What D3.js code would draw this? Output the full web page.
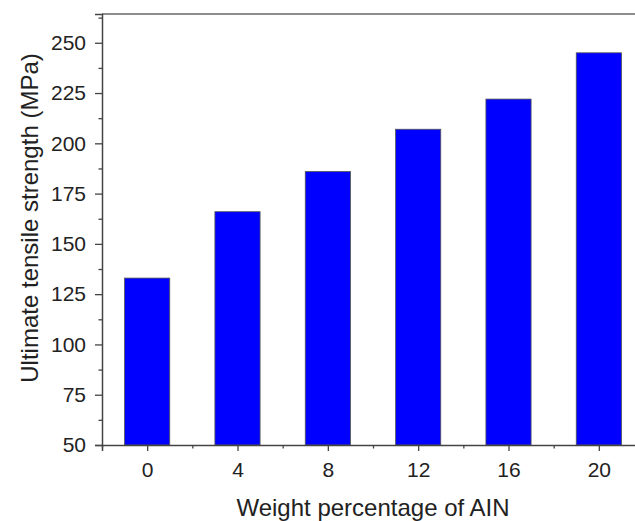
<!DOCTYPE html>
<html>
<head>
<meta charset="utf-8">
<script src="https://cdn.jsdelivr.net/npm/d3@7"></script>
<style>
  body { margin: 0; background: #fff; }
  svg { display: block; font-family: "Liberation Sans", Arial, sans-serif; }
</style>
</head>
<body>
<div id="chart"></div>
<script>
// chart data
var categories = [0, 4, 8, 12, 16, 20];
var strength = [133, 166, 186, 207, 222, 245];
var yTicks = [50, 75, 100, 125, 150, 175, 200, 225, 250];
var xLabel = "Weight percentage of AIN";
var yLabel = "Ultimate tensile strength (MPa)";

var W = 635, H = 521;
// the plot runs past the right edge of the picture, as in the original
var margin = {top: 14, left: 102, bottom: 76, right: -9};
var width = W - margin.left - margin.right,
    height = H - margin.top - margin.bottom;

var svg = d3.select("#chart")
    .append("svg")
    .attr("width", W)
    .attr("height", H)
    .append("g")
    .attr("transform", "translate(" + margin.left + "," + margin.top + ")");

var x = d3.scaleLinear().domain([-2, 22]).range([0, width]);
var y = d3.scaleLinear().domain([50, 264.3]).range([height, 0]);

var axisColor = "#444";

// bars (each spans 2 units around its category)
svg.selectAll(".bar")
    .data(categories)
    .enter().append("rect")
    .attr("class", "bar")
    .attr("x", function(d) { return x(d - 1); })
    .attr("width", function(d) { return x(d + 1) - x(d - 1); })
    .attr("y", function(d, i) { return y(strength[i]); })
    .attr("height", function(d, i) { return height - y(strength[i]); })
    .attr("fill", "#0000ff")
    .attr("stroke", "#555")
    .attr("stroke-width", 0.8);

// top frame line
svg.append("line")
    .attr("x1", 0).attr("x2", width)
    .attr("y1", 0).attr("y2", 0)
    .attr("stroke", "#666")
    .attr("stroke-width", 1.5);

// minor ticks
var yMinor = d3.range(62.5, 264, 25);
var xMinor = [-2, 2, 6, 10, 14, 18, 22];

svg.append("g")
    .call(d3.axisLeft(y).tickValues(yTicks).tickSize(7).tickPadding(9));
svg.append("g")
    .call(d3.axisLeft(y).tickValues(yMinor).tickSize(3.5).tickFormat(""))
    .select(".domain").remove();

svg.append("g")
    .attr("transform", "translate(0," + height + ")")
    .call(d3.axisBottom(x).tickValues(categories).tickSize(6).tickPadding(11));
svg.append("g")
    .attr("transform", "translate(0," + height + ")")
    .call(d3.axisBottom(x).tickValues(xMinor).tickSize(3.5).tickFormat(""))
    .select(".domain").remove();

svg.selectAll(".domain").attr("stroke", axisColor).attr("stroke-width", 1.5);
svg.selectAll(".tick line").attr("stroke", axisColor).attr("stroke-width", 1.3);
svg.selectAll(".tick text")
    .attr("fill", "#222")
    .style("font-size", "21px")
    .style("font-family", "'Liberation Sans', Arial, sans-serif");

// axis titles
svg.append("text")
    .attr("x", x(10))
    .attr("y", height + 71)
    .attr("text-anchor", "middle")
    .attr("fill", "#222")
    .style("font-size", "24px")
    .text(xLabel);

svg.append("text")
    .attr("transform", "rotate(-90)")
    .attr("x", -204)
    .attr("y", -64)
    .attr("text-anchor", "middle")
    .attr("fill", "#222")
    .style("font-size", "24px")
    .text(yLabel);
</script>
</body>
</html>
